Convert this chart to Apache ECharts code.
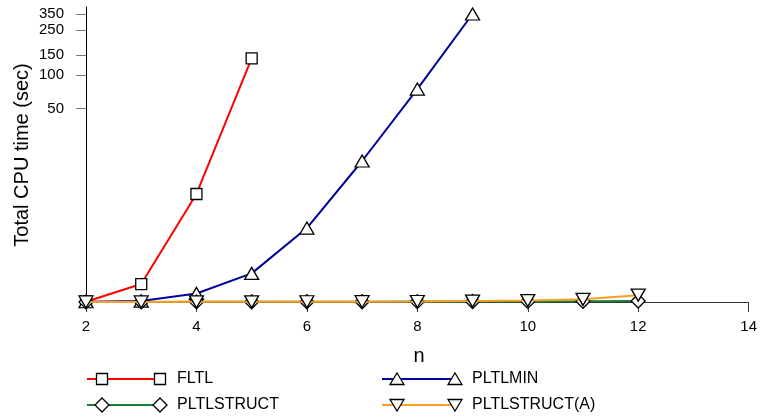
<!DOCTYPE html>
<html>
<head>
<meta charset="utf-8">
<script src="https://cdn.jsdelivr.net/npm/echarts@6/dist/echarts.min.js"></script>
<style>html,body{margin:0;padding:0;background:#fff}#c{width:760px;height:419px}</style>
</head>
<body>
<div id="c"></div>
<script>
// ---- data (raw CPU seconds) ----
var nFLTL = [2, 3, 4, 5];
var vFLTL = [0.005, 0.44, 8.0, 141];
var nPLTLMIN = [2, 3, 4, 5, 6, 7, 8, 9];
var vPLTLMIN = [0.005, 0.02, 0.19, 0.79, 3.5, 16.6, 75, 349];
var nPLTLSTRUCT = [2, 3, 4, 5, 6, 7, 8, 9, 10, 11, 12];
var vPLTLSTRUCT = [0.001, 0.002, 0.003, 0.004, 0.005, 0.006, 0.008, 0.01, 0.012, 0.015, 0.02];
var nPLTLSTRUCTA = [2, 3, 4, 5, 6, 7, 8, 9, 10, 11, 12];
var vPLTLSTRUCTA = [0.001, 0.002, 0.003, 0.004, 0.005, 0.007, 0.01, 0.018, 0.03, 0.055, 0.15];
var yTickValues = [50, 100, 150, 250, 350];
var xTickValues = [2, 4, 6, 8, 10, 12, 14];
var seriesNames = ['FLTL', 'PLTLMIN', 'PLTLSTRUCT', 'PLTLSTRUCT(A)'];

function tr(v) { return Math.log10(v + 1); }
function pts(ns, vs) { return ns.map(function (n, i) { return [n, tr(vs[i])]; }); }

var colors = ['#ff0000', '#00009c', '#1a7f3a', '#f9a023'];
var symbols = ['rect', 'triangle', 'diamond', 'triangle'];
var sizes = [[11, 11], [14, 12], [14, 14], [14, 12]];
var rotates = [0, 0, 0, 180];
var datas = [pts(nFLTL, vFLTL), pts(nPLTLMIN, vPLTLMIN), pts(nPLTLSTRUCT, vPLTLSTRUCT), pts(nPLTLSTRUCTA, vPLTLSTRUCTA)];

var series = datas.map(function (d, i) {
  return {
    name: seriesNames[i], type: 'line', data: d,
    symbol: symbols[i], symbolSize: sizes[i], symbolRotate: rotates[i],
    showAllSymbol: true, clip: false, z: 2 + i,
    lineStyle: { color: colors[i], width: 2 },
    itemStyle: { color: '#fff', borderColor: '#000', borderWidth: 1.3 }
  };
});

// legend drawn as graphic groups
var font = '16px "Liberation Sans", Arial, sans-serif';
var legendPos = [[87, 379], [382, 379], [87, 405], [382, 405]];
var legendGraphics = [];
function markerShape(i, cx, cy) {
  if (i === 0) return { type: 'rect', shape: { x: cx - 5.5, y: cy - 5.5, width: 11, height: 11 } };
  if (i === 1) return { type: 'polygon', shape: { points: [[cx, cy - 6], [cx + 7, cy + 5.5], [cx - 7, cy + 5.5]] } };
  if (i === 2) return { type: 'polygon', shape: { points: [[cx, cy - 7], [cx + 7, cy], [cx, cy + 7], [cx - 7, cy]] } };
  return { type: 'polygon', shape: { points: [[cx, cy + 6], [cx + 7, cy - 5.5], [cx - 7, cy - 5.5]] } };
}
legendPos.forEach(function (p, i) {
  var x = p[0], y = p[1];
  legendGraphics.push({ type: 'line', shape: { x1: x, y1: y, x2: x + 72, y2: y }, style: { stroke: colors[i], lineWidth: 2 } });
  [x + 15, x + 73].forEach(function (mx) {
    var m = markerShape(i, mx, y);
    m.style = { fill: '#fff', stroke: '#000', lineWidth: 1.3 };
    legendGraphics.push(m);
  });
  legendGraphics.push({ type: 'text', x: x + 90, y: y, style: { text: seriesNames[i], font: font, fill: '#000', verticalAlign: 'middle', align: 'left' } });
});

var chart = echarts.init(document.getElementById('c'), null, { renderer: 'canvas' });
chart.setOption({
  animation: false,
  backgroundColor: '#fff',
  grid: { left: 86, right: 7, top: 7, bottom: 117, containLabel: false },
  xAxis: {
    type: 'value', min: 2, max: 14, interval: 2,
    axisLine: { show: true, onZero: false, lineStyle: { color: '#333', width: 1 } },
    axisTick: { show: true, inside: false, length: 10, lineStyle: { color: '#333' }, customValues: xTickValues },
    axisLabel: { color: '#000', fontSize: 15, margin: 17, fontFamily: 'Liberation Sans, Arial, sans-serif', customValues: xTickValues },
    splitLine: { show: false }
  },
  yAxis: {
    type: 'value', min: 0, max: 2.606,
    axisLine: { show: true, lineStyle: { color: '#000', width: 1 } },
    axisTick: { show: true, length: 10, lineStyle: { color: '#777' }, customValues: yTickValues.map(tr) },
    axisLabel: {
      color: '#000', fontSize: 15, margin: 22, fontFamily: 'Liberation Sans, Arial, sans-serif',
      customValues: yTickValues.map(tr),
      formatter: function (v) { return String(Math.round(Math.pow(10, v) - 1)); }
    },
    splitLine: { show: false }
  },
  graphic: legendGraphics.concat([
    { type: 'text', x: 419, y: 356, style: { text: 'n', font: '20px "Liberation Sans", Arial, sans-serif', fill: '#000', align: 'center', verticalAlign: 'middle' } },
    { type: 'text', x: 22, y: 155, rotation: Math.PI / 2, style: { text: 'Total CPU time (sec)', font: '20px "Liberation Sans", Arial, sans-serif', fill: '#000', align: 'center', verticalAlign: 'middle' } }
  ]),
  series: series
});
</script>
</body>
</html>
